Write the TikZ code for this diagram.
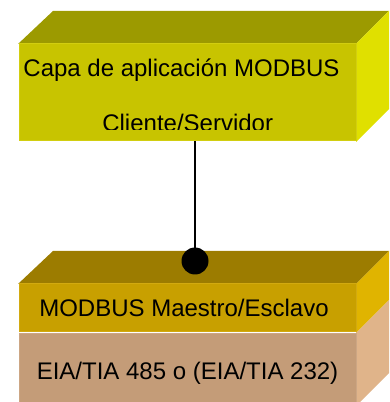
\documentclass[tikz,border=0pt]{standalone}
\usepackage{fontspec}
\setmainfont{Liberation Sans}
\definecolor{appTop}{HTML}{9C9A00}
\definecolor{appFront}{HTML}{C8C400}
\definecolor{appEdge}{HTML}{D2CE10}
\definecolor{appSide}{HTML}{E0E000}
\definecolor{busTop}{HTML}{9C7C00}
\definecolor{busFront}{HTML}{C8A000}
\definecolor{busEdge}{HTML}{D2AA10}
\definecolor{busSide}{HTML}{E0B400}
\definecolor{phyFront}{HTML}{C49C78}
\definecolor{phyEdge}{HTML}{CCA684}
\definecolor{phySide}{HTML}{E0B48A}
\tikzset{
  face/.style={draw=#1, line width=1pt},
  label text/.style={anchor=base, inner sep=0pt, font=\fontsize{24}{28}\selectfont},
}
\begin{document}
\begin{tikzpicture}[x=1pt,y=1pt]
\useasboundingbox (0,0) rectangle (389,402);
\begin{scope}
\clip (0,0) rectangle (389,402);
% application layer block
\fill[appTop] (18,358) -- (53,391) -- (389,391) -- (356,358) -- cycle;
\fill[appSide] (356,358) -- (389,391) -- (389,293) -- (356,260) -- cycle;
\node[face=appEdge, fill=appFront, minimum width=337, minimum height=97, inner sep=0pt, anchor=south west] (app) at (18.5,260.5) {};
\node[label text] (apptitle) at (181.5,325) {Capa de aplicación MODBUS};
\begin{scope}
\clip (18,272.5) rectangle (356,300);
\node[label text] (appsub) at (187.7,270.2) {Cliente/Servidor};
\end{scope}
% master/slave and physical layer block
\fill[busTop] (18,118) -- (53,151) -- (389,151) -- (356,118) -- cycle;
\fill[busSide] (356,118) -- (389,151) -- (389,102) -- (356,69) -- cycle;
\fill[phySide] (356,69) -- (389,102) -- (389,29) -- (356,-4) -- cycle;
\node[face=busEdge, fill=busFront, minimum width=337, minimum height=48, inner sep=0pt, anchor=south west] (bus) at (18.5,69.5) {};
\node[face=phyEdge, fill=phyFront, minimum width=337, minimum height=74, inner sep=0pt, anchor=north west] (phy) at (18.5,68.5) {};
\node[label text] (bustext) at (184,85) {MODBUS Maestro/Esclavo};
\node[label text] (phytext) at (187.5,23) {EIA/TIA 485 o (EIA/TIA 232)};
% link between the layers
\node[circle, fill=black, minimum size=27, inner sep=0pt] (dot) at (195,141) {};
\draw[line width=1.2pt] (dot.center) -- (dot.center |- app.south);
\end{scope}
\end{tikzpicture}
\end{document}
